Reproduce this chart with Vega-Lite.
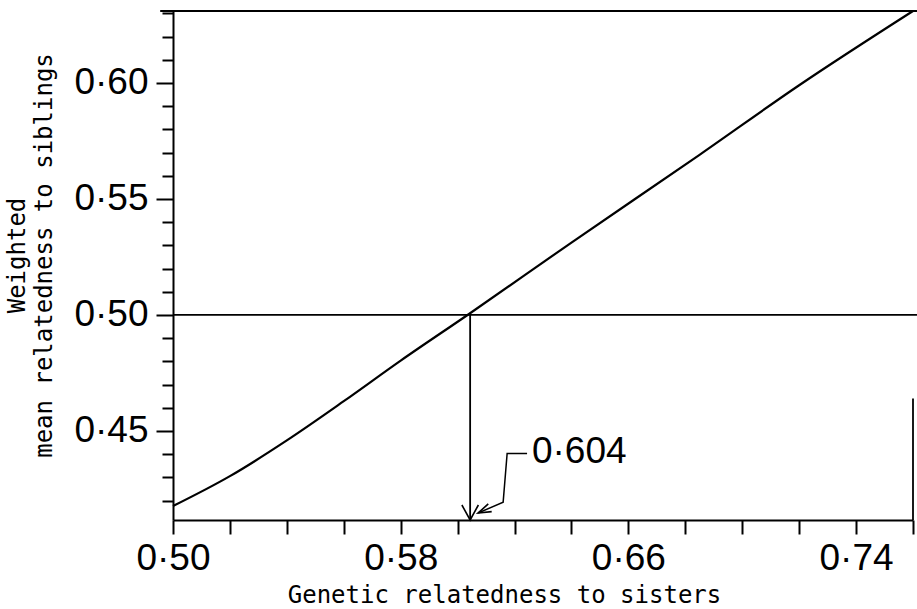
{
  "$schema": "https://vega.github.io/schema/vega-lite/v6.json",
  "width": 740,
  "height": 509,
  "autosize": {"type": "none"},
  "padding": {"left": 173, "top": 11, "right": 4, "bottom": 89},
  "background": "white",
  "config": {
    "view": {"stroke": null},
    "axis": {"grid": false, "domainColor": "black", "tickColor": "black", "labelColor": "black", "titleColor": "black"}
  },
  "datasets": {
    "curve": [
      {"x": 0.50, "y": 0.4176},
      {"x": 0.52, "y": 0.4305},
      {"x": 0.54, "y": 0.4459},
      {"x": 0.56, "y": 0.4628},
      {"x": 0.58, "y": 0.4803},
      {"x": 0.604, "y": 0.5004},
      {"x": 0.64, "y": 0.5312},
      {"x": 0.685, "y": 0.5690},
      {"x": 0.72, "y": 0.5990},
      {"x": 0.76, "y": 0.631}
    ],
    "rules": [
      {"x": 0.4955, "y": 0.631, "x2": 0.7614, "y2": 0.631},
      {"x": 0.50, "y": 0.50, "x2": 0.7614, "y2": 0.50},
      {"x": 0.6044, "y": 0.50, "x2": 0.6044, "y2": 0.4116},
      {"x": 0.76, "y": 0.4116, "x2": 0.76, "y2": 0.464}
    ],
    "leader": [
      {"x": 0.6244, "y": 0.4403},
      {"x": 0.6174, "y": 0.4403},
      {"x": 0.6160, "y": 0.4193},
      {"x": 0.6072, "y": 0.4146}
    ],
    "arrow1": [{"x": 0.6044, "y": 0.4116}],
    "arrow2": [{"x": 0.6072, "y": 0.4146}],
    "note": [{"x": 0.6261, "y": 0.4361, "label": "0·604"}]
  },
  "encoding": {
    "x": {
      "field": "x",
      "type": "quantitative",
      "scale": {"domain": [0.5, 0.76], "nice": false, "zero": false},
      "axis": {
        "values": [0.5, 0.52, 0.54, 0.56, 0.58, 0.6, 0.62, 0.64, 0.66, 0.68, 0.7, 0.72, 0.74, 0.76],
        "labelExpr": "round((datum.value - 0.5) * 100) % 8 == 0 ? replace(format(datum.value, '.2f'), '.', '·') : ''",
        "labelFont": "Liberation Sans",
        "labelFontSize": 37,
        "labelPadding": 6,
        "labelFlush": false,
        "labelOverlap": false,
        "tickSize": 14,
        "tickWidth": 2,
        "domainWidth": 2,
        "title": "Genetic relatedness to sisters",
        "titleFont": "DejaVu Sans Mono",
        "titleFontSize": 24,
        "titleFontWeight": "normal",
        "titleX": 331,
        "titleY": 82,
        "titleBaseline": "alphabetic"
      }
    },
    "y": {
      "field": "y",
      "type": "quantitative",
      "scale": {"domain": [0.4116, 0.631], "nice": false, "zero": false},
      "axis": {
        "values": [0.42, 0.43, 0.44, 0.45, 0.46, 0.47, 0.48, 0.49, 0.5, 0.51, 0.52, 0.53, 0.54, 0.55, 0.56, 0.57, 0.58, 0.59, 0.6, 0.61, 0.62, 0.63],
        "labelExpr": "round(datum.value * 100) % 5 == 0 ? replace(format(datum.value, '.2f'), '.', '·') : ''",
        "labelFont": "Liberation Sans",
        "labelFontSize": 37,
        "labelPadding": 8,
        "labelOverlap": false,
        "labelFlush": false,
        "tickSize": {"condition": {"test": "round(datum.value * 100) % 5 == 0", "value": 17}, "value": 11},
        "tickWidth": 2,
        "domainWidth": 2,
        "title": ["Weighted", "mean relatedness to siblings"],
        "titleFont": "DejaVu Sans Mono",
        "titleFontSize": 24,
        "titleFontWeight": "normal",
        "titleLineHeight": 27,
        "titleX": -168,
        "titleY": 244,
        "titleBaseline": "top",
        "titleAngle": -90
      }
    }
  },
  "layer": [
    {
      "data": {"name": "curve"},
      "mark": {"type": "line", "color": "black", "strokeWidth": 2.2, "interpolate": "monotone"}
    },
    {
      "data": {"name": "rules"},
      "mark": {"type": "rule", "color": "black", "strokeWidth": 1.8},
      "encoding": {"x2": {"field": "x2"}, "y2": {"field": "y2"}}
    },
    {
      "data": {"name": "leader"},
      "mark": {"type": "line", "color": "black", "strokeWidth": 1.5}
    },
    {
      "data": {"name": "arrow1"},
      "mark": {"type": "point", "shape": "M -1.1 -2 L 0 0 L 1.1 -2", "size": 225, "filled": false, "color": "black", "strokeWidth": 1.6, "opacity": 1}
    },
    {
      "data": {"name": "arrow2"},
      "mark": {"type": "point", "shape": "M -0.65 -2 L 0 0 L 0.65 -2", "size": 169, "angle": 66, "filled": false, "color": "black", "strokeWidth": 1.6, "opacity": 1}
    },
    {
      "data": {"name": "note"},
      "mark": {"type": "text", "font": "Liberation Sans", "fontSize": 37, "align": "left", "baseline": "alphabetic", "color": "black"},
      "encoding": {"text": {"field": "label"}}
    }
  ]
}
